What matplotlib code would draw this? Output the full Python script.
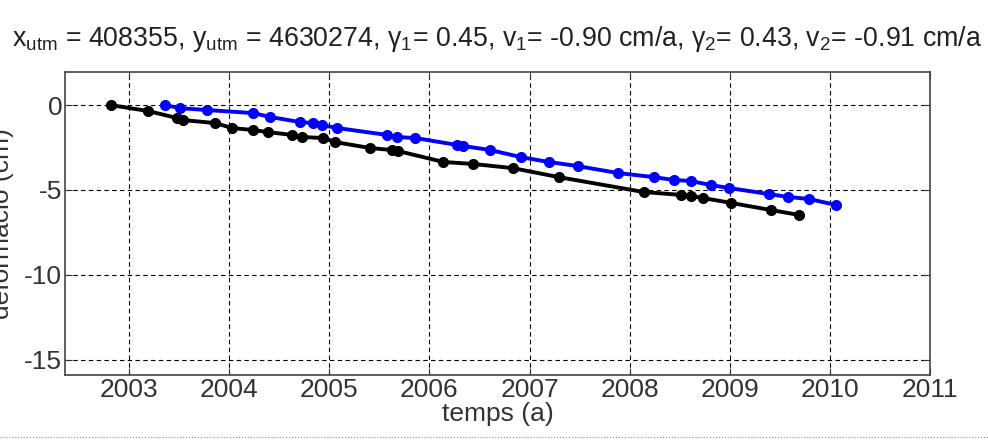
import matplotlib
matplotlib.use("Agg")
import matplotlib.pyplot as plt
from matplotlib.lines import Line2D

plt.rcParams.update({"font.family": ["Liberation Sans", "DejaVu Sans"], "font.size": 19,
                     "mathtext.fontset": "custom", "mathtext.rm": "Liberation Sans",
                     "mathtext.it": "Liberation Sans:italic"})

# series 1 (black) and series 2 (blue): time in years, deformation in cm
t_black = [2002.82, 2003.19, 2003.48, 2003.54, 2003.86, 2004.03, 2004.24, 2004.39,
           2004.63, 2004.73, 2004.94, 2005.06, 2005.41, 2005.63, 2005.69, 2006.14,
           2006.44, 2006.83, 2007.29, 2008.14, 2008.51, 2008.61, 2008.73, 2009.01,
           2009.41, 2009.69]
d_black = [0.0, -0.35, -0.76, -0.88, -1.06, -1.35, -1.47, -1.59,
           -1.76, -1.88, -1.94, -2.18, -2.53, -2.65, -2.71, -3.35,
           -3.47, -3.71, -4.24, -5.12, -5.29, -5.35, -5.47, -5.76,
           -6.18, -6.47]

t_blue = [2003.36, 2003.51, 2003.78, 2004.24, 2004.41, 2004.71, 2004.84, 2004.93,
          2005.08, 2005.58, 2005.68, 2005.86, 2006.28, 2006.34, 2006.61, 2006.91,
          2007.19, 2007.48, 2007.88, 2008.24, 2008.44, 2008.61, 2008.81, 2008.99,
          2009.39, 2009.58, 2009.79, 2010.06]
d_blue = [0.0, -0.18, -0.29, -0.47, -0.70, -1.00, -1.06, -1.18,
          -1.35, -1.76, -1.88, -1.94, -2.35, -2.41, -2.65, -3.06,
          -3.35, -3.59, -4.00, -4.24, -4.41, -4.47, -4.71, -4.88,
          -5.24, -5.41, -5.53, -5.88]

xticks = list(range(2003, 2012))
yticks = [0, -5, -10, -15]

title = (u"x$_{\\rm utm}$ = 408355, y$_{\\rm utm}$ = 4630274, \u03b3$_{\\rm 1}$= 0.45, "
         u"v$_{\\rm 1}$= -0.90 cm/a, \u03b3$_{\\rm 2}$= 0.43, v$_{\\rm 2}$= -0.91 cm/a")

fig = plt.figure(figsize=(9.88, 4.41), dpi=100)
ax = fig.add_axes([0.0658, 0.1497, 0.8755, 0.687])

ax.plot(t_blue, d_blue, "-o", color="#0000ff", lw=2.8, ms=7)
ax.plot(t_black, d_black, "-o", color="black", lw=2.8, ms=7)

ax.set_xlim(2002.36, 2011.0)
ax.set_ylim(-15.9, 1.95)
ax.set_xticks(xticks)
ax.set_yticks(yticks)
ax.set_yticklabels([str(v) for v in yticks])
ax.grid(True, color="black", linestyle=(0, (4, 3)), linewidth=0.8)
ax.tick_params(direction="in", top=True, right=True, length=5, labelsize=19,
               colors="#333333", pad=2)
for s in ax.spines.values():
    s.set_color("#444444")
    s.set_linewidth(1.2)

ax.set_xlabel("temps (a)", fontsize=19, color="#333333", labelpad=0)
ax.set_ylabel(u"deformació (cm)", fontsize=19, color="#333333")
ax.yaxis.set_label_coords(-0.059, 0.5)
ax.set_title(title, fontsize=19.3, color="#222222", pad=19)

fig.add_artist(Line2D([0, 1], [0.01, 0.01], transform=fig.transFigure,
                      color="#888888", lw=0.8, ls=":"))

fig.savefig("out.png", dpi=100)
